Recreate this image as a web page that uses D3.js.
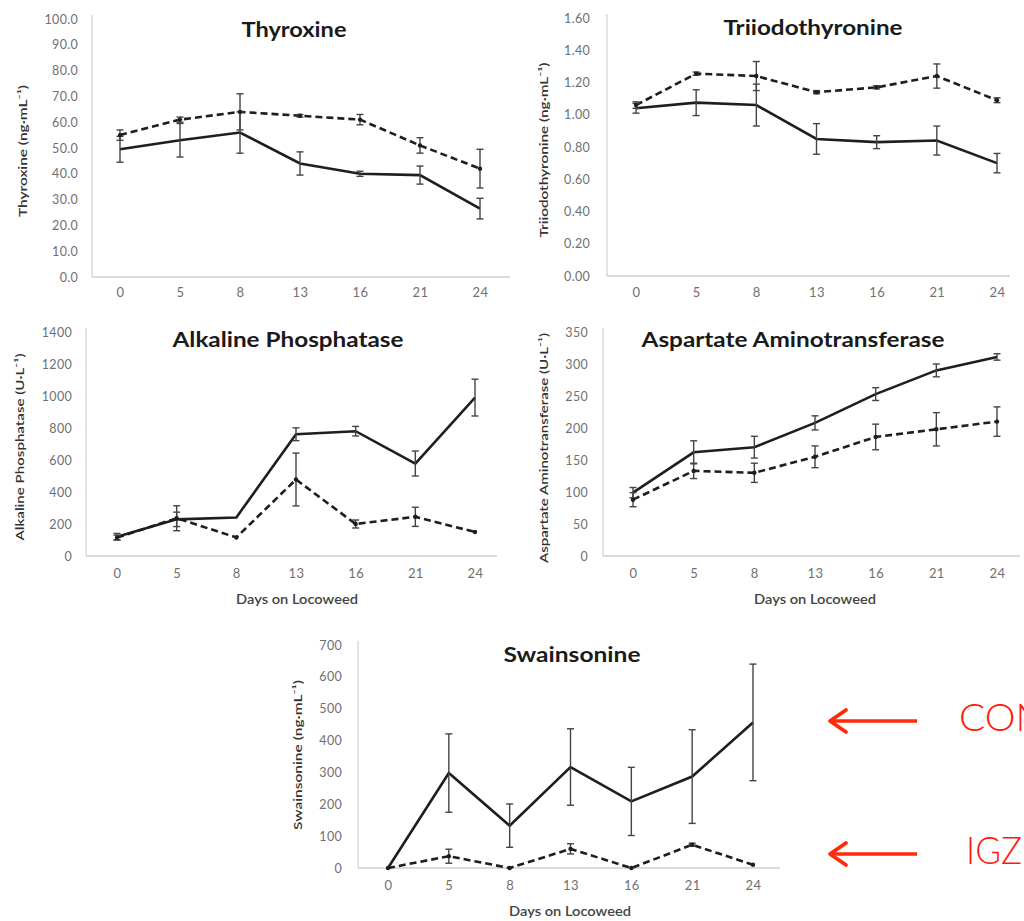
<!DOCTYPE html>
<html><head><meta charset="utf-8">
<script src="https://cdn.jsdelivr.net/npm/d3@7"></script>
<style>
body{margin:0;background:#fff;}
svg text{font-family:Lato,"Open Sans",sans-serif;}
</style></head>
<body><svg id="c" width="1024" height="921"></svg>
<script>
const days = ["0","5","8","13","16","21","24"];

// Thyroxine (ng·mL-1)
const t4Con = [49.5, 53, 56, 44, 40, 39.5, 26.5];
const t4ConErr = [5, 6.5, 8, 4.5, 1, 3.5, 4];
const t4Igz = [55, 61, 64, 62.5, 61, 51, 42];
const t4IgzErr = [2, 1, 7, 0.5, 2, 3, 7.5];

// Triiodothyronine (ng·mL-1)
const t3Con = [1.04, 1.075, 1.06, 0.85, 0.83, 0.84, 0.70];
const t3ConErr = [0.03, 0.08, 0.13, 0.095, 0.04, 0.09, 0.06];
const t3Igz = [1.06, 1.255, 1.24, 1.14, 1.17, 1.24, 1.09];
const t3IgzErr = [0.02, 0.01, 0.09, 0.01, 0.01, 0.075, 0.015];

// Alkaline Phosphatase (U·L-1)
const alpCon = [121, 229, 241, 761, 780, 578, 990];
const alpConErr = [20, 45, 0, 40, 30, 78, 115];
const alpIgz = [115, 236, 116, 478, 200, 245, 150];
const alpIgzErr = [15, 78, 0, 165, 25, 60, 0];

// Aspartate Aminotransferase (U·L-1)
const astCon = [99, 162, 170, 208, 253, 290, 311];
const astConErr = [8, 18, 17, 11, 10, 10, 5];
const astIgz = [88, 133, 130, 155, 186, 198, 210];
const astIgzErr = [11, 12, 15, 17, 20, 26, 23];

// Swainsonine (ng·mL-1)
const swCon = [0, 298, 133, 317, 209, 287, 457];
const swConErr = [0, 123, 68, 120, 107, 147, 183];
const swIgz = [0, 37, 0, 60, 0, 73, 10];
const swIgzErr = [0, 22, 0, 16, 0, 5, 0];

const t4Ticks = [0,10,20,30,40,50,60,70,80,90,100];
const t3Ticks = [0,0.2,0.4,0.6,0.8,1.0,1.2,1.4,1.6];
const alpTicks = [0,200,400,600,800,1000,1200,1400];
const astTicks = [0,50,100,150,200,250,300,350];
const swTicks = [0,100,200,300,400,500,600,700];

const seriesLabels = ["CON", "IGZ"];

const svg = d3.select("#c");

const panels = [
  {title:"Thyroxine", ylab:"Thyroxine (ng·mL⁻¹)", con:t4Con, conE:t4ConErr, igz:t4Igz, igzE:t4IgzErr,
   ticks:t4Ticks, fmt:d3.format(".1f"), ax:[92,510], px:[120,480], py:[277,19], lblR:78, ylx:24, yly:151, ylLen:132,
   tx:294, ty:32, tLen:105, xly:297, days:false},
  {title:"Triiodothyronine", ylab:"Triiodothyronine (ng·mL⁻¹)", con:t3Con, conE:t3ConErr, igz:t3Igz, igzE:t3IgzErr,
   ticks:t3Ticks, fmt:d3.format(".2f"), ax:[607,1010], px:[636,997], py:[276,18], lblR:590, ylx:545, yly:150, ylLen:175,
   tx:813, ty:30, tLen:179, xly:297, days:false},
  {title:"Alkaline Phosphatase", ylab:"Alkaline Phosphatase (U·L⁻¹)", con:alpCon, conE:alpConErr, igz:alpIgz, igzE:alpIgzErr,
   ticks:alpTicks, fmt:d3.format("d"), ax:[86,497], px:[117,475], py:[556,332], lblR:72, ylx:21, yly:447, ylLen:187,
   tx:288, ty:342, tLen:231, xly:578, days:true, dx:297, dy:601},
  {title:"Aspartate Aminotransferase", ylab:"Aspartate Aminotransferase (U·L⁻¹)", con:astCon, conE:astConErr, igz:astIgz, igzE:astIgzErr,
   ticks:astTicks, fmt:d3.format("d"), ax:[603,1020], px:[633,997], py:[556,332], lblR:588, ylx:545, yly:448, ylLen:230,
   tx:793, ty:342, tLen:303, xly:578, days:true, dx:815, dy:601},
  {title:"Swainsonine", ylab:"Swainsonine (ng·mL⁻¹)", con:swCon, conE:swConErr, igz:swIgz, igzE:swIgzErr,
   ticks:swTicks, fmt:d3.format("d"), ax:[358,780], px:[388,753], py:[868,645], lblR:342, ylx:299, yly:755, ylLen:150,
   tx:572, ty:657, tLen:137, xly:890, days:true, dx:570, dy:913}
];

panels.forEach(p => {
  const x = d3.scalePoint().domain(days).range(p.px).padding(0);
  const y = d3.scaleLinear().domain([0, p.ticks[p.ticks.length-1]]).range(p.py);
  const g = svg.append("g");

  // axis lines
  g.append("line").attr("x1",p.ax[0]).attr("x2",p.ax[0]).attr("y1",p.py[0]).attr("y2",p.py[1]-4)
    .attr("stroke","#cfcfcf").attr("stroke-width",1.2);
  g.append("line").attr("x1",p.ax[0]).attr("x2",p.ax[1]).attr("y1",p.py[0]).attr("y2",p.py[0])
    .attr("stroke","#cfcfcf").attr("stroke-width",1.4);

  // y axis ticks
  const ya = d3.axisLeft(y).tickValues(p.ticks).tickFormat(p.fmt).tickSize(0).tickPadding(p.ax[0]-p.lblR);
  const yg = g.append("g").attr("transform",`translate(${p.ax[0]},0)`).call(ya);
  yg.select(".domain").remove();
  yg.selectAll("text").attr("fill","#6f6f6f").style("font-size","12.5px").style("letter-spacing","0.3px");

  // x axis ticks
  const xa = d3.axisBottom(x).tickSize(0).tickPadding(0);
  const xg = g.append("g").attr("transform",`translate(0,${p.xly-9})`).call(xa);
  xg.select(".domain").remove();
  xg.selectAll("text").attr("fill","#6f6f6f").style("font-size","13px").style("letter-spacing","0.4px");

  // y label
  g.append("text").attr("transform",`translate(${p.ylx},${p.yly}) rotate(-90)`)
    .attr("x",-p.ylLen/2).attr("dominant-baseline","middle")
    .attr("textLength",p.ylLen).attr("lengthAdjust","spacingAndGlyphs")
    .style("font-size","12px").style("font-weight","600").attr("fill","#333").text(p.ylab);

  // title
  g.append("text").attr("x",p.tx-p.tLen/2).attr("y",p.ty).attr("dominant-baseline","middle")
    .attr("textLength",p.tLen).attr("lengthAdjust","spacingAndGlyphs")
    .style("font-size","21px").style("font-weight","bold").attr("fill","#1a1a1a").text(p.title);

  if (p.days) {
    g.append("text").attr("x",p.dx-61).attr("y",p.dy).attr("dominant-baseline","middle")
      .attr("textLength",122).attr("lengthAdjust","spacingAndGlyphs")
      .style("font-size","13px").style("font-weight","600").attr("fill","#444").text("Days on Locoweed");
  }

  const line = d3.line().x((d,i)=>x(days[i])).y(d=>y(d));

  // error bars
  const drawErr = (vals, errs) => {
    vals.forEach((v,i) => {
      const e = errs[i];
      if (!e) return;
      const cx = x(days[i]);
      g.append("line").attr("x1",cx).attr("x2",cx).attr("y1",y(v-e)).attr("y2",y(v+e))
        .attr("stroke","#444").attr("stroke-width",1.4);
      [v-e, v+e].forEach(w => g.append("line").attr("x1",cx-3.5).attr("x2",cx+3.5).attr("y1",y(w)).attr("y2",y(w))
        .attr("stroke","#444").attr("stroke-width",1.4));
    });
  };

  g.append("path").datum(p.igz).attr("d",line).attr("fill","none").attr("stroke","#1e1e1e")
    .attr("stroke-width",2.6).attr("stroke-dasharray","7,4");
  g.append("path").datum(p.con).attr("d",line).attr("fill","none").attr("stroke","#1e1e1e")
    .attr("stroke-width",2.6);
  drawErr(p.igz, p.igzE);
  drawErr(p.con, p.conE);
  g.selectAll(null).data(p.igz).enter().append("circle")
    .attr("cx",(d,i)=>x(days[i])).attr("cy",d=>y(d)).attr("r",2.2).attr("fill","#1e1e1e");
});

// red arrows and labels (CON runs off the right edge, as in the reference)
const arrowY = [721, 854];
const arrowLblX = [959, 966];
const arrowLblLen = [86, 56];
arrowY.forEach((ay,i) => {
  svg.append("line").attr("x1",917).attr("x2",831).attr("y1",ay).attr("y2",ay)
    .attr("stroke","#ff2a0a").attr("stroke-width",3.5);
  svg.append("path").attr("d",`M${846},${ay-11} L${830},${ay} L${846},${ay+11}`)
    .attr("fill","none").attr("stroke","#ff2a0a").attr("stroke-width",3.8).attr("stroke-linecap","round").attr("stroke-linejoin","round");
  svg.append("text").attr("x",arrowLblX[i]).attr("y",ay+1).attr("dominant-baseline","middle")
    .attr("textLength",arrowLblLen[i]).attr("lengthAdjust","spacingAndGlyphs")
    .style("font-size","37px").style("font-weight","300")
    .attr("fill","#ff1a0a").text(seriesLabels[i]);
});
</script></body></html>
